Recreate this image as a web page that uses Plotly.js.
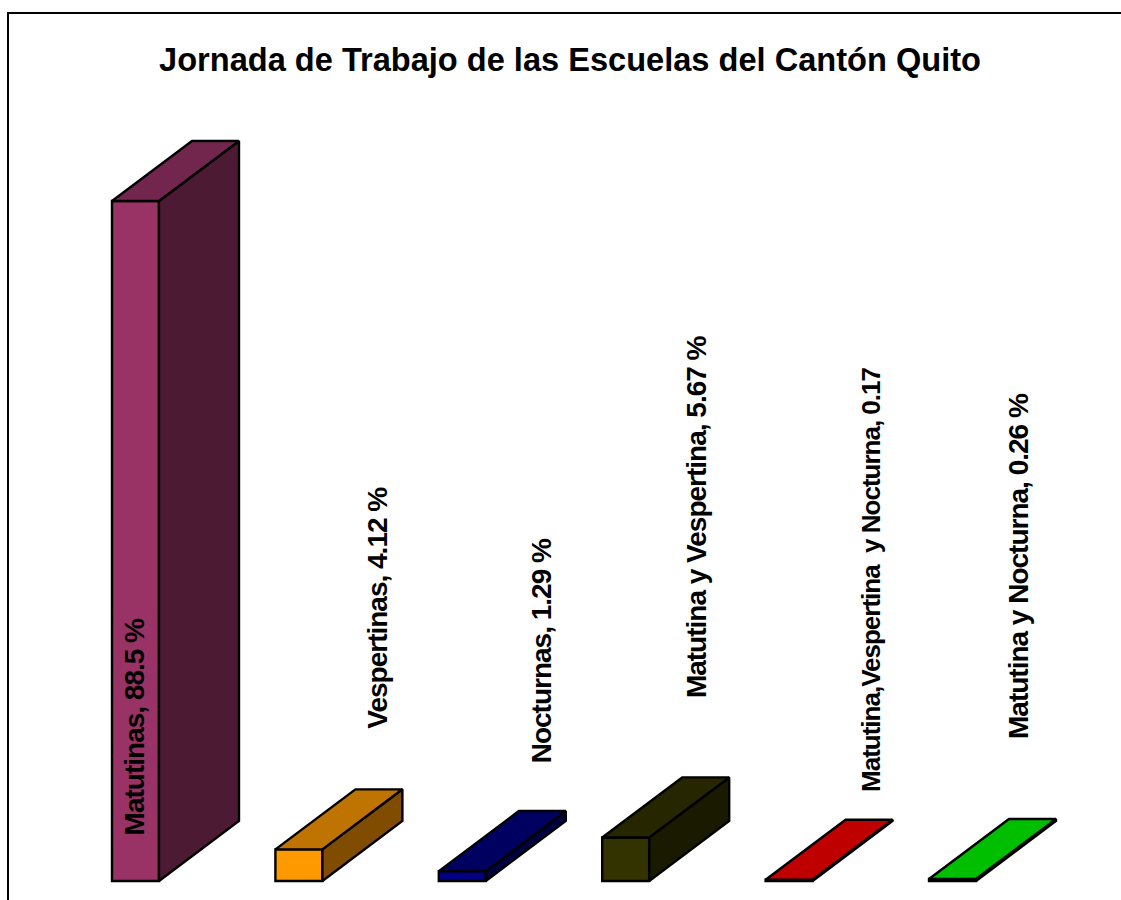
<!DOCTYPE html>
<html><head><meta charset="utf-8">
<script src="https://cdn.plot.ly/plotly-3.0.1.min.js"></script>
<style>html,body{margin:0;padding:0;background:#fff;overflow:hidden}#c{width:1121px;height:900px}
.annotation-text{letter-spacing:-1px}</style>
</head><body><div id="c"></div>
<script>
const categories = ["Matutinas","Vespertinas","Nocturnas","Matutina y Vespertina","Matutina,Vespertina  y Nocturna","Matutina y Nocturna"];
const values = [88.5,4.12,1.29,5.67,0.17,0.26];
const valueText = ["88.5 %","4.12 %","1.29 %","5.67 %","0.17","0.26 %"];
const frontColors = ["#993366","#FF9900","#000080","#333300","#CC0000","#00CC00"];
const topColors = ["#73264D","#BF7300","#000060","#262600","#BF0000","#00BF00"];
const sideColors = ["#4D1A33","#804D00","#000040","#1A1A00","#800000","#008000"];
const labelY = [5.7, 19.6, 15.0, 23.6, 11.3, 18.2];
const labelX = [-0.008, 1.48, 2.482, 3.43, 4.5, 5.4];
const labelSize = [28, 28, 28, 28, 26, 28];

const barWidth = 0.2876, depthX = 0.4896, depthY = 7.81;
const edge = 2.4;
const traces = [{
  type:"bar", x:categories.map((_,i)=>i), y:values, width:barWidth,
  marker:{color:frontColors,line:{color:"#000",width:edge}}, hoverinfo:"skip"
}];
values.forEach((v,i)=>{
  const L=i-barWidth/2,R=i+barWidth/2;
  traces.push({type:"scatter",mode:"lines",fill:"toself",fillcolor:sideColors[i],
    x:[R,R+depthX,R+depthX,R,R],y:[0,depthY,v+depthY,v,0],
    line:{color:"#000",width:edge,shape:"linear"},hoverinfo:"skip"});
  traces.push({type:"scatter",mode:"lines",fill:"toself",fillcolor:topColors[i],
    x:[L,L+depthX,R+depthX,R,L],y:[v,v+depthY,v+depthY,v,v],
    line:{color:"#000",width:edge},hoverinfo:"skip"});
});
const annotations = categories.map((c,i)=>({
  xref:"x",yref:"y",x:labelX[i],y:labelY[i],
  text:"<b>"+c+", "+valueText[i]+"</b>",textangle:-90,showarrow:false,
  xanchor:"center",yanchor:"bottom",
  font:{family:"Liberation Sans, Arial, sans-serif",size:labelSize[i],color:"#000"}
}));
const layout = {
  width:1121,height:900,margin:{l:0,r:0,t:0,b:0,pad:0},showlegend:false,
  paper_bgcolor:"#fff",plot_bgcolor:"#fff",
  title:{text:"<b>Jornada de Trabajo de las Escuelas del Cantón Quito</b>",
    x:570/1121,y:1-60/900,xref:"paper",yref:"paper",xanchor:"center",yanchor:"middle",
    font:{family:"Liberation Sans, Arial, sans-serif",size:32.6,color:"#000"}},
  xaxis:{range:[-0.8292,6.0312],visible:false,fixedrange:true},
  yaxis:{range:[-2.4727,114.65],visible:false,fixedrange:true},
  annotations,
  shapes:[{type:"path",xref:"paper",yref:"paper",layer:"above",
    path:"M "+8/1121+" 0 L "+8/1121+" "+(1-13/900)+" L 1 "+(1-13/900),line:{color:"#000",width:2}}]
};
Plotly.newPlot("c",traces,layout,{displayModeBar:false,staticPlot:true});
</script></body></html>
